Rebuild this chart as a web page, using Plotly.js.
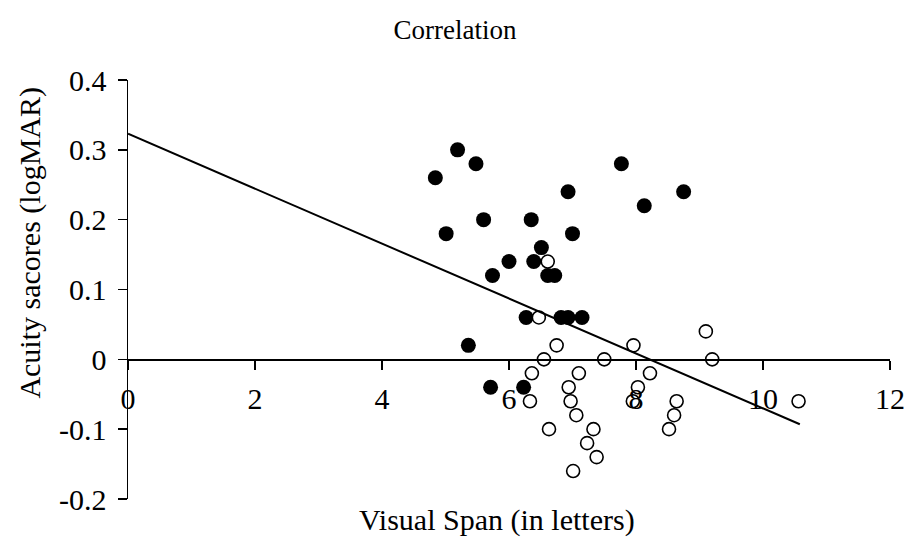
<!DOCTYPE html>
<html>
<head>
<meta charset="utf-8">
<script src="https://cdn.plot.ly/plotly-3.0.1.min.js"></script>
<style>html,body{margin:0;padding:0;background:#fff;}#chart{width:910px;height:542px;}</style>
</head>
<body>
<div id="chart"></div>
<script>
// Filled markers (group 1)
const filledX = [4.84, 5.19, 5.48, 7.77, 6.93, 8.75, 8.13, 5.60, 6.35, 5.01, 7.00, 6.51, 6.00, 6.39, 5.74, 6.61, 6.72, 6.27, 6.82, 6.93, 7.15, 5.36, 5.71, 6.23];
const filledY = [0.26, 0.30, 0.28, 0.28, 0.24, 0.24, 0.22, 0.20, 0.20, 0.18, 0.18, 0.16, 0.14, 0.14, 0.12, 0.12, 0.12, 0.06, 0.06, 0.06, 0.06, 0.02, -0.04, -0.04];
// Open markers (group 2)
const openX = [6.61, 6.47, 6.75, 7.96, 9.10, 6.55, 7.50, 9.20, 6.36, 7.10, 8.22, 6.94, 8.03, 6.33, 6.97, 7.95, 8.64, 10.56, 7.06, 8.60, 6.63, 7.33, 8.52, 7.23, 7.38, 7.01];
const openY = [0.14, 0.06, 0.02, 0.02, 0.04, 0.00, 0.00, 0.00, -0.02, -0.02, -0.02, -0.04, -0.04, -0.06, -0.06, -0.06, -0.06, -0.06, -0.08, -0.08, -0.10, -0.10, -0.10, -0.12, -0.14, -0.16];
// Linear trend line end points
const trendX = [0, 10.58];
const trendY = [0.323, -0.093];
// Axis ticks
const xTicks = [0, 2, 4, 6, 8, 10, 12];
const yTicks = [-0.2, -0.1, 0, 0.1, 0.2, 0.3, 0.4];
const yTickText = ['-0.2', '-0.1', '0', '0.1', '0.2', '0.3', '0.4'];

const FONT = 'Liberation Serif, Times New Roman, serif';

const traces = [
  {
    x: filledX, y: filledY, type: 'scatter', mode: 'markers',
    marker: {color: '#000', size: 15, line: {width: 0}},
    hoverinfo: 'x+y', showlegend: false
  },
  {
    x: openX, y: openY, type: 'scatter', mode: 'markers',
    marker: {color: '#fff', size: 13, line: {color: '#000', width: 1.6}},
    hoverinfo: 'x+y', showlegend: false
  },
  {
    x: trendX, y: trendY, type: 'scatter', mode: 'lines',
    line: {color: '#000', width: 2},
    hoverinfo: 'skip', showlegend: false
  }
];

const layout = {
  width: 910, height: 542,
  margin: {l: 128, r: 20, t: 80, b: 43},
  paper_bgcolor: '#fff', plot_bgcolor: '#fff',
  font: {family: FONT, color: '#000', size: 30},
  title: {text: 'Correlation', font: {family: FONT, size: 27, color: '#000'}, x: 0.5, xanchor: 'center', y: 0.945, yanchor: 'middle'},
  xaxis: {
    range: [0, 12], tickvals: xTicks, ticktext: xTicks.map(String),
    anchor: 'free', position: 1/3,
    showgrid: false, zeroline: false,
    showline: true, linecolor: '#000', linewidth: 1.5,
    ticks: 'outside', ticklen: 9, tickwidth: 1.5, tickcolor: '#000',
    ticklabelstandoff: 3,
    tickfont: {family: FONT, size: 30, color: '#000'},
    fixedrange: true
  },
  yaxis: {
    range: [-0.2, 0.4], tickvals: yTicks, ticktext: yTickText,
    showgrid: false, zeroline: false,
    showline: true, linecolor: '#000', linewidth: 1.5,
    ticks: 'outside', ticklen: 9, tickwidth: 1.5, tickcolor: '#000',
    ticklabelstandoff: 5,
    tickfont: {family: FONT, size: 30, color: '#000'},
    fixedrange: true
  },
  annotations: [
    {text: 'Visual Span (in letters)', xref: 'paper', yref: 'paper', x: 0.484, y: -0.05, xanchor: 'center', yanchor: 'middle', showarrow: false, font: {family: FONT, size: 30, color: '#000'}},
    {text: 'Acuity sacores (logMAR)', xref: 'paper', yref: 'paper', x: -0.128, y: 0.613, xanchor: 'center', yanchor: 'middle', textangle: -90, showarrow: false, font: {family: FONT, size: 30, color: '#000'}}
  ]
};

Plotly.newPlot('chart', traces, layout, {displayModeBar: false, staticPlot: true});
</script>
</body>
</html>
